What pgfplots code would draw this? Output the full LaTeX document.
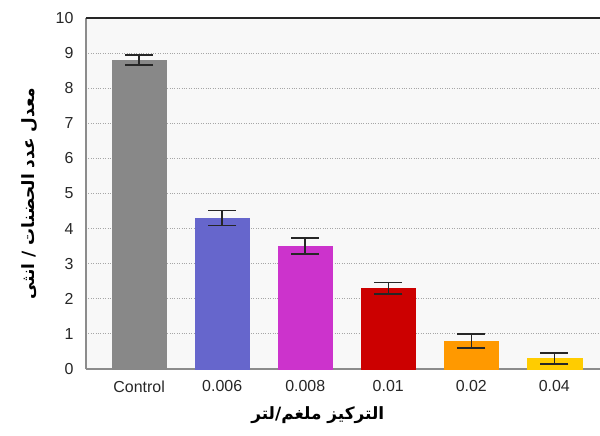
\documentclass[border=0pt]{standalone}
\usepackage{pgfplots}
\pgfplotsset{compat=1.18}
\usepackage{fontspec}
\setmainfont{Liberation Sans}
\TeXXeTstate=1
\newfontfamily\arabicfont[Script=Arabic]{DejaVu Sans}

\definecolor{cgray}{HTML}{888888}
\definecolor{cblue}{HTML}{6666CC}
\definecolor{cmag}{HTML}{CC33CC}
\definecolor{cred}{HTML}{CC0000}
\definecolor{corange}{HTML}{FF9900}
\definecolor{cyellow}{HTML}{FFCC00}
\definecolor{bgfill}{HTML}{F8F8F8}

\pgfplotsset{
  meanbar/.style={
    ybar, bar width=0.66, bar shift=0pt, draw=#1, fill=#1,
    error bars/.cd,
      y dir=both, y explicit,
      error bar style={draw=black!85, line width=1.5bp},
      error mark=|,
      error mark options={draw=black!85, line width=1.5bp, mark size=14bp},
  },
}

\begin{document}
\begin{tikzpicture}
\begin{axis}[
  name=ax,
  scale only axis,
  width=514bp, height=351bp,
  xmin=-0.64, xmax=5.55,
  ymin=0, ymax=10,
  clip=false,
  axis x line*=bottom, axis y line*=left,
  axis line style={-, draw=black!45, line width=1.6bp},
  axis background/.style={fill=bgfill},
  xtick={0,1,2,3,4,5},
  xticklabels={Control,0.006,0.008,0.01,0.02,0.04},
  ytick={0,1,...,10},
  major tick length=0pt,
  ymajorgrids,
  grid style={dotted, black!35, line width=1bp},
  /pgf/number format/assume math mode=true,
  tick label style={font=\fontsize{16}{18}\selectfont, text=black!85},
  yticklabel style={xshift=-9bp},
  xticklabel style={yshift=-8bp},
  xlabel={\arabicfont\bfseries\fontsize{17}{20}\selectfont\beginR التركيز ملغم/لتر\endR},
  xlabel style={at={(axis description cs:0.451,-0.131)}, anchor=center},
  ylabel={\arabicfont\bfseries\fontsize{17}{20}\selectfont\beginR معدل عدد الحضنات / انثى\endR},
  ylabel style={at={(axis description cs:-0.109,0.5)}, anchor=center},
]
% mean number of broods per female, +- standard error
\addplot[meanbar=cgray]   coordinates {(0,8.8) +- (0,0.14)};
\addplot[meanbar=cblue]   coordinates {(1,4.3) +- (0,0.21)};
\addplot[meanbar=cmag]    coordinates {(2,3.5) +- (0,0.23)};
\addplot[meanbar=cred]    coordinates {(3,2.3) +- (0,0.16)};
\addplot[meanbar=corange] coordinates {(4,0.8) +- (0,0.2)};
\addplot[meanbar=cyellow] coordinates {(5,0.3) +- (0,0.16)};
\draw[black!85, line width=1.6bp] (rel axis cs:0,1) -- (rel axis cs:1,1);
\end{axis}
\pgfresetboundingbox
\path ([xshift=-86bp,yshift=-67bp]ax.south west) rectangle ([yshift=18bp]ax.north east);
\end{tikzpicture}
\end{document}
